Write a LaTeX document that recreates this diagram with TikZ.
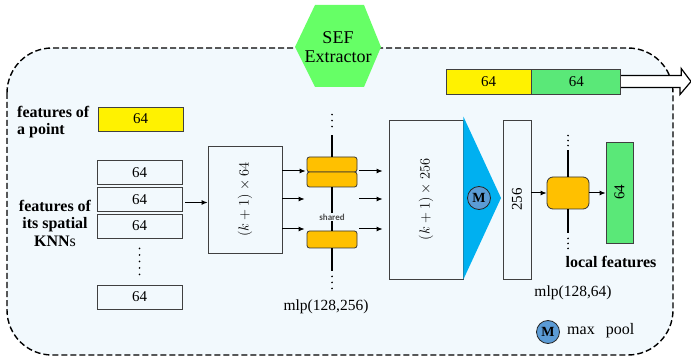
\documentclass[tikz,border=0pt]{standalone}
\usepackage{fontspec}
\setmainfont{Liberation Serif}
\newfontfamily\sharedfont{Carlito}
\usetikzlibrary{arrows.meta}

\definecolor{panelbg}{HTML}{F2F9FD}
\definecolor{hexgreen}{HTML}{66FF66}
\definecolor{featgreen}{HTML}{5AE878}
\definecolor{mlporange}{HTML}{FFC000}
\definecolor{poolcyan}{HTML}{00B0F0}
\definecolor{poolblue}{HTML}{5B9BD5}

\tikzset{
    featbox/.style={draw=black!75, line width=0.8pt, minimum width=85pt, minimum height=24pt, inner sep=0pt, font=\fontsize{15}{15}\selectfont},
    tallbox/.style={draw=black!75, line width=0.8pt, inner sep=0pt},
    mlpbox/.style={draw=black!80, fill=mlporange, line width=0.8pt, rounded corners=2.5pt, minimum width=50pt, inner sep=0pt},
    poolnode/.style={circle, draw=black!85, line width=0.8pt, fill=poolblue, minimum size=23pt, inner sep=0pt, font=\bfseries\fontsize{14}{14}\selectfont},
    flow/.style={-{Latex[length=6pt,width=5pt]}, line width=1pt},
    stem/.style={line width=1.5pt},
    dotline/.style={line width=1.8pt, line cap=round, dash pattern=on 0pt off 6pt},
    boldlbl/.style={font=\bfseries\fontsize{16}{17.5}\selectfont, inner sep=0pt},
    plainlbl/.style={font=\fontsize{15.5}{16}\selectfont, inner sep=0pt},
}

\begin{document}
\begin{tikzpicture}[x=1pt, y=-1pt]
    \useasboundingbox (0,0) rectangle (691,358);
    \fill[panelbg, rounded corners=45pt] (7,48) rectangle (673,355);

    % inputs: the point and its neighbours
    \node[featbox, fill=yellow] (point) at (140.5,119) {64};
    \node[boldlbl, align=left, anchor=west] (pointlbl) at (17,122) {features of\\a point};
    \node[featbox] (knn1) at (139.5,172.5) {64};
    \node[featbox] (knn2) at (139.5,199.5) {64};
    \node[featbox] (knn3) at (139.5,226) {64};
    \node[featbox] (knnk) at (139.5,297) {64};
    \draw[dotline, dash pattern=on 0pt off 6.5pt] ([yshift=-10pt]knn3.south) -- ([yshift=8pt]knnk.north);
    \node[boldlbl, align=center] (knnlbl) at (55,223) {features of\\its spatial\\KNN{\mdseries s}};

    \node[tallbox, minimum width=74pt, minimum height=107pt, label={[rotate=90, font=\fontsize{15}{15}\selectfont]center:$(k+1)\times 64$}] (catA) at (245,199.5) {};
    \draw[flow, shorten <=3pt] ([yshift=-3pt]knn2.east) -- ([yshift=-3pt]knn2.east -| catA.west);

    % shared mlp(128,256)
    \node[mlpbox, minimum height=15pt] (mlpA1) at (332,164.5) {};
    \node[mlpbox, minimum height=15pt] (mlpA2) at (332,179.5) {};
    \node[mlpbox, minimum height=17pt] (mlpB) at (332,239.5) {};
    \node[font=\sharedfont\bfseries\fontsize{9}{9}\selectfont, text=black!70, inner sep=1pt] (shared) at (332,217) {shared};
    \draw[stem] (mlpA1.north) -- ++(0,-22);
    \draw[dotline] (mlpA1.north) ++(0,-30) -- ++(0,-12.5);
    \draw[stem] (mlpA2.south) -- (shared.north);
    \draw[stem] (shared.south) -- (mlpB.north);
    \draw[stem] (mlpB.south) -- ++(0,23);
    \draw[dotline] (mlpB.south) ++(0,28) -- ++(0,12.5);
    \node[plainlbl] (mlpAlbl) at (326,307) {mlp(128,256)};

    \coordinate (rowA) at (332,171);
    \coordinate (rowB) at (332,199);
    \coordinate (rowC) at (332,229);
    \draw[flow, shorten >=1pt] (catA.east |- rowA) -- (mlpA1.west |- rowA);
    \draw[flow, shorten >=2pt] (catA.east |- rowB) -- (mlpA1.west |- rowB);
    \draw[flow, shorten >=2pt] (catA.east |- rowC) -- (mlpB.west |- rowC);

    \node[tallbox, minimum width=74pt, minimum height=159pt, label={[rotate=90, font=\fontsize{15}{15}\selectfont]center:$(k+1)\times 256$}] (catB) at (426,199.5) {};
    \draw[flow, shorten <=2pt, shorten >=6pt] (mlpA1.east |- rowA) -- (catB.west |- rowA);
    \draw[flow, shorten <=2pt, shorten >=6pt] (mlpA1.east |- rowB) -- (catB.west |- rowB);
    \draw[flow, shorten <=2pt, shorten >=6pt] (mlpB.east |- rowC) -- (catB.west |- rowC);

    % max pooling
    \coordinate (pooltip) at (501,198);
    \fill[poolcyan] ([yshift=3pt]catB.north east) -- (pooltip) -- (catB.south east) -- cycle;
    \node[poolnode] (pool) at (479,198) {M};

    \node[tallbox, minimum width=28pt, minimum height=159pt, label={[rotate=90, font=\fontsize{15}{15}\selectfont]center:256}] (feat256) at (517,199.5) {};

    % mlp(128,64)
    \node[mlpbox, minimum width=42pt, minimum height=32pt, rounded corners=6pt] (mlpC) at (568,193) {};
    \draw[stem] (mlpC.north) -- ++(0,-27);
    \draw[dotline, dash pattern=on 0pt off 5pt] (mlpC.north) ++(0,-31) -- ++(0,-10.5);
    \draw[stem] (mlpC.south) -- ++(0,24);
    \draw[dotline, dash pattern=on 0pt off 5pt] (mlpC.south) ++(0,29) -- ++(0,10.5);
    \draw[flow] (feat256.east |- mlpC) -- (mlpC.west);
    \node[tallbox, fill=featgreen, minimum width=27pt, minimum height=101pt, label={[rotate=90, font=\fontsize{15}{15}\selectfont]center:64}] (local) at (619.5,192.5) {};
    \draw[flow] (mlpC.east) -- (mlpC.east -| local.west);
    \node[boldlbl] (locallbl) at (611,262) {local features};
    \node[plainlbl] (mlpClbl) at (573,293) {mlp(128,64)};

    % legend
    \node[poolnode] (legendM) at (548,332) {M};
    \node[plainlbl, font=\fontsize{16}{16}\selectfont, anchor=west] (legendtxt) at (567,331) {max\hspace{0.7em}pool};

    \draw[line width=1.4pt, dash pattern=on 6pt off 3pt, rounded corners=45pt] (7,48) rectangle (673,355);

    % title and concatenated output
    \fill[hexgreen] (295,47) -- (315,5) -- (364,5) -- (381,47) -- (364,87) -- (315,87) -- cycle;
    \node[font=\fontsize{18}{19}\selectfont, align=center, inner sep=0pt] (sef) at (338,47) {SEF\\Extractor};

    \node[featbox, fill=yellow, minimum height=25pt] (outpoint) at (488.5,81.5) {64};
    \node[featbox, fill=featgreen, minimum width=89pt, minimum height=25pt, anchor=west] (outlocal) at (outpoint.east) {64};
    \draw[line width=1.2pt, fill=white, line join=miter] (outlocal.east) ++(0,-6) -- ++(60,0) -- ++(0,-7) -- (691,81.5) -- (680,94.5) -- ++(0,-7) -- ([yshift=-6pt]outlocal.east);
\end{tikzpicture}
\end{document}
